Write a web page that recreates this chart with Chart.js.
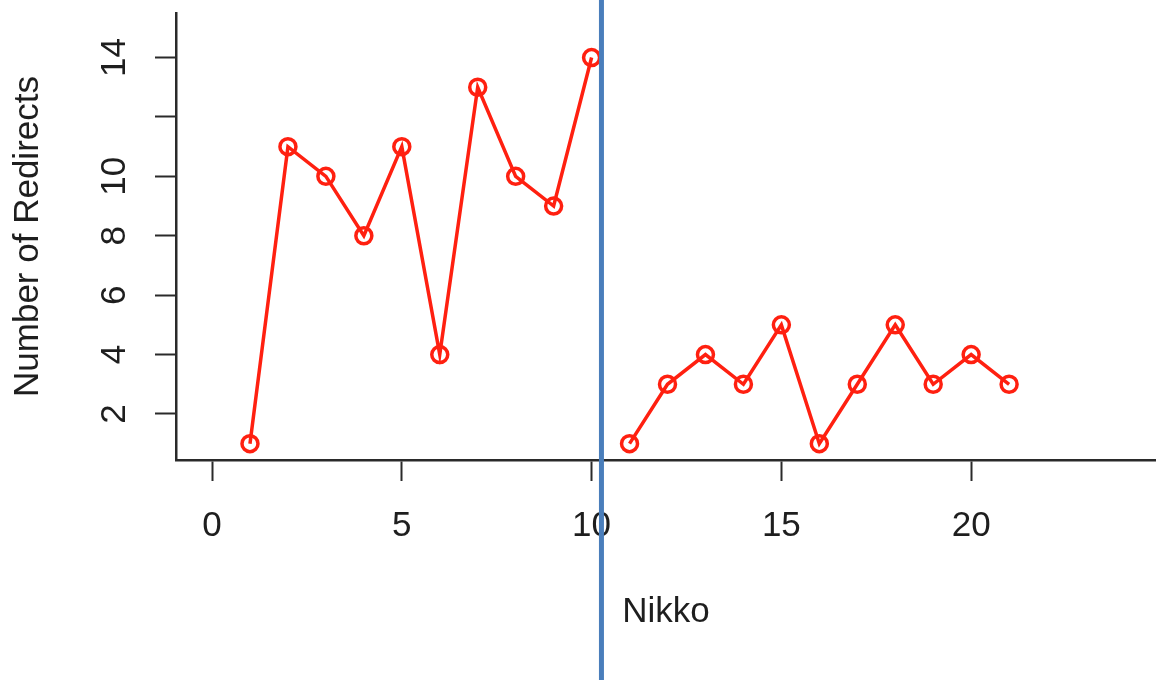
<!DOCTYPE html>
<html>
<head>
<meta charset="utf-8">
<script src="https://cdn.jsdelivr.net/npm/chart.js@4/dist/chart.umd.min.js"></script>
<style>
  html, body { margin: 0; padding: 0; background: #fff; }
  canvas { display: block; }
</style>
</head>
<body>
<canvas id="redirects-chart" width="1156" height="683"></canvas>
<script>
// data
const beforeX = [1, 2, 3, 4, 5, 6, 7, 8, 9, 10];
const beforeValues = [1, 11, 10, 8, 11, 4, 13, 10, 9, 14];
const afterX = [11, 12, 13, 14, 15, 16, 17, 18, 19, 20, 21];
const afterValues = [1, 3, 4, 3, 5, 1, 3, 5, 3, 4, 3];
const xTicks = [0, 5, 10, 15, 20];
const yTicks = [2, 4, 6, 8, 10, 12, 14];
const yTickLabels = ["2", "4", "6", "8", "10", "", "14"]; // R dropped "12"
const splitAt = 10.26;

// look
let lineColor = "#ff2010";
let splitColor = "#4a7ebb";
let axisColor = "#2a2a2a";
let textColor = "#1e1e1e";
let fontFamily = "'Liberation Sans', Arial, Helvetica, sans-serif";
let fontSize = 35;

const toPoints = (xs, ys) => xs.map((x, i) => ({ x: x, y: ys[i] }));

const seriesStyle = {
  borderColor: lineColor,
  borderWidth: 3.5,
  pointStyle: "circle",
  pointRadius: 8,
  pointBorderWidth: 3.5,
  pointBorderColor: lineColor,
  pointBackgroundColor: "transparent",
  tension: 0,
  clip: false,
};

// rotated y labels + split line
const extras = {
  id: "extras",
  afterDraw(chart) {
    const c = chart.ctx;
    const y = chart.scales.y;
    const x = chart.scales.x;
    c.save();
    c.fillStyle = textColor;
    c.font = fontSize + "px " + fontFamily;
    c.textAlign = "center";
    c.textBaseline = "middle";
    yTicks.forEach((v, i) => {
      c.save();
      c.translate(115, y.getPixelForValue(v));
      c.rotate(-Math.PI / 2);
      c.fillText(yTickLabels[i], 0, 0);
      c.restore();
    });
    const px = x.getPixelForValue(splitAt);
    c.strokeStyle = splitColor;
    c.lineWidth = 5;
    c.beginPath();
    c.moveTo(px, 0);
    c.lineTo(px, 680);
    c.stroke();
    c.restore();
  },
};

new Chart(document.getElementById("redirects-chart").getContext("2d"), {
  type: "line",
  data: {
    datasets: [
      Object.assign({ label: "before", data: toPoints(beforeX, beforeValues) }, seriesStyle),
      Object.assign({ label: "after", data: toPoints(afterX, afterValues) }, seriesStyle),
    ],
  },
  options: {
    responsive: false,
    animation: false,
    layout: { autoPadding: false, padding: { top: 13, right: 0, left: 0, bottom: 0 } },
    plugins: {
      legend: { display: false },
      tooltip: { enabled: false },
    },
    scales: {
      x: {
        type: "linear",
        min: -0.949,
        max: 24.87,
        afterFit: s => { s.height = 223; s.paddingLeft = 0; s.paddingRight = 0; },
        afterBuildTicks: s => { s.ticks = xTicks.map(v => ({ value: v })); },
        border: { display: true, color: axisColor, width: 2.5 },
        grid: { drawOnChartArea: false, drawTicks: true, tickLength: 21, tickWidth: 2, tickColor: axisColor },
        ticks: {
          color: textColor,
          font: { family: fontFamily, size: fontSize },
          padding: 24,
          maxRotation: 0,
          callback: v => String(v),
        },
        title: {
          display: true,
          text: "Nikko",
          color: textColor,
          font: { family: fontFamily, size: fontSize },
          padding: { top: 0, bottom: 50 },
        },
      },
      y: {
        type: "linear",
        min: 0.45,
        max: 15.5,
        afterFit: s => { s.width = 176; s.paddingTop = 0; s.paddingBottom = 0; },
        afterBuildTicks: s => { s.ticks = yTicks.map(v => ({ value: v })); },
        border: { display: true, color: axisColor, width: 2.5 },
        grid: { drawOnChartArea: false, drawTicks: true, tickLength: 21, tickWidth: 2, tickColor: axisColor },
        ticks: { display: false },
        title: {
          display: true,
          text: "Number of Redirects",
          color: textColor,
          font: { family: fontFamily, size: fontSize },
          padding: { top: 7, bottom: 0 },
        },
      },
    },
  },
  plugins: [extras],
});
</script>
</body>
</html>
